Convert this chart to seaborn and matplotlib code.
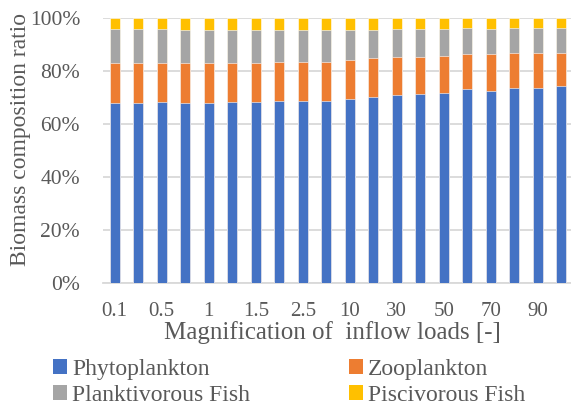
import matplotlib
matplotlib.use("Agg")
import matplotlib.pyplot as plt
from matplotlib.patches import Patch
import seaborn as sns
import pandas as pd
import numpy as np

# Inflow-load magnification factors (x categories)
loads = ["0.1", "0.3", "0.5", "0.7", "1", "1.2", "1.5", "2", "2.5", "5",
         "10", "20", "30", "40", "50", "60", "70", "80", "90", "100"]

# Biomass share of each trophic group
phytoplankton = [0.679, 0.679, 0.681, 0.679, 0.678, 0.681, 0.683, 0.684, 0.684, 0.684,
                 0.692, 0.702, 0.708, 0.712, 0.717, 0.730, 0.725, 0.736, 0.734, 0.741]
zooplankton = [0.149, 0.149, 0.147, 0.149, 0.150, 0.149, 0.147, 0.148, 0.148, 0.150,
               0.148, 0.145, 0.143, 0.141, 0.140, 0.134, 0.137, 0.132, 0.132, 0.127]
planktivorous = [0.129, 0.129, 0.129, 0.127, 0.127, 0.125, 0.125, 0.123, 0.123, 0.121,
                 0.115, 0.108, 0.105, 0.103, 0.101, 0.096, 0.096, 0.094, 0.096, 0.094]
piscivorous = [0.043, 0.043, 0.043, 0.045, 0.045, 0.045, 0.045, 0.045, 0.045, 0.045,
               0.045, 0.045, 0.044, 0.044, 0.042, 0.040, 0.042, 0.038, 0.038, 0.038]

groups = ["Phytoplankton", "Zooplankton", "Planktivorous Fish", "Piscivorous Fish"]
colors = ["#4472C4", "#ED7D31", "#A5A5A5", "#FFC000"]

df = pd.DataFrame({
    "load": loads,
    "Phytoplankton": phytoplankton,
    "Zooplankton": zooplankton,
    "Planktivorous Fish": planktivorous,
    "Piscivorous Fish": piscivorous,
})
# cumulative tops for stacking
cum = df[groups].cumsum(axis=1)

sns.set_style("white")
plt.rcParams["font.family"] = ["Liberation Serif", "DejaVu Serif"]
text_color = "#595959"

fig = plt.figure(figsize=(5.71, 4.09), dpi=100)
ax = fig.add_axes([103 / 571, 1 - 282.7 / 409, 470 / 571, 265 / 409])

# draw tallest cumulative layer first so lower layers sit on top
for g, c in reversed(list(zip(groups, colors))):
    sns.barplot(x=df["load"], y=cum[g], color=c, width=0.41, ax=ax,
                edgecolor="white", linewidth=0.4, saturation=1, zorder=3)

ax.set_ylim(0, 1)
ax.set_xlim(-0.5, 19.5)
yt = np.arange(0, 1.01, 0.2)
ax.set_yticks(yt)
ax.set_yticklabels([f"{int(round(v * 100))}%" for v in yt])
# label every second category
ax.set_xticks(range(0, len(loads), 2))
ax.set_xticklabels(loads[::2])
ax.tick_params(axis="both", length=0, colors=text_color)
ax.tick_params(axis="x", pad=14, labelsize=15)
ax.tick_params(axis="y", pad=16.5, labelsize=15.5)

ax.yaxis.grid(True, color="#D9D9D9", linewidth=1.3, zorder=0)
ax.set_axisbelow(True)
for s in ["top", "right", "left"]:
    ax.spines[s].set_visible(False)
ax.spines["bottom"].set_color("#D9D9D9")
ax.spines["bottom"].set_linewidth(1.3)

ax.set_xlabel("Magnification of  inflow loads [-]", fontsize=18, color=text_color)
ax.xaxis.set_label_coords((332.5 - 103) / 470, -(321 - 282.7) / 265)
ax.set_ylabel("Biomass composition ratio", fontsize=17, color=text_color)
ax.yaxis.set_label_coords((31 - 103) / 470, (282.7 - 139) / 265)

# row-major legend: Phytoplankton, Zooplankton / Planktivorous, Piscivorous
order = [0, 2, 1, 3]
handles = [Patch(facecolor=colors[i], edgecolor="none") for i in order]
labels = [groups[i] for i in order]
fig.legend(handles, labels, loc="upper left", bbox_to_anchor=(53 / 571, 1 - 359 / 409),
           ncol=2, frameon=False, fontsize=17, handlelength=0.6, handleheight=0.6,
           handletextpad=0.2, columnspacing=4.2, labelspacing=0.22,
           borderpad=0, borderaxespad=0, labelcolor=text_color)

fig.savefig("out.png", dpi=100)
